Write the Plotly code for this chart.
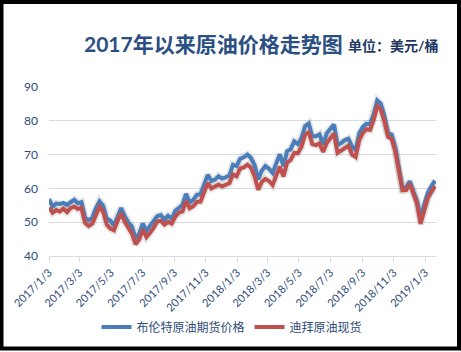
import pandas as pd
import plotly.graph_objects as go

# Weekly observations (Tuesdays) starting 2017-01-03
dates = pd.date_range("2017-01-03", periods=108, freq="7D")

brent = [56.8, 54.6, 55.5, 55.4, 55.7, 55.1, 55.9, 56.6, 55.6, 55.9,
         51.3, 50.6, 51.3, 54.2, 56.2, 54.9, 51.1, 50.5, 49.0, 52.0,
         54.2, 51.8, 49.9, 48.7, 45.2, 46.6, 49.6, 47.5, 48.8, 50.2,
         51.8, 52.1, 50.8, 51.9, 51.0, 53.4, 54.3, 55.1, 58.4, 55.8,
         56.6, 58.1, 58.3, 61.4, 64.0, 62.2, 62.6, 63.6, 62.9, 63.3,
         63.8, 67.0, 66.6, 68.8, 69.2, 70.0, 69.0, 66.9, 62.7, 65.3,
         66.6, 65.8, 64.6, 67.4, 70.1, 66.6, 71.0, 71.6, 73.9, 73.1,
         74.9, 78.4, 79.2, 75.4, 75.4, 76.0, 73.0, 76.3, 77.8, 78.9,
         72.9, 73.4, 74.3, 74.7, 72.5, 71.2, 76.3, 78.2, 79.1, 79.0,
         81.9, 86.0, 85.0, 81.4, 76.4, 75.9, 72.1, 65.5, 60.0, 60.2,
         62.1, 59.2, 56.3, 51.5, 54.9, 58.7, 60.6, 62.3]

dubai = [54.3, 52.8, 53.6, 53.2, 54.0, 53.0, 54.2, 54.6, 53.9, 54.3,
         49.8, 48.9, 49.6, 52.1, 54.5, 53.1, 49.3, 48.1, 47.6, 50.4,
         52.6, 50.1, 48.3, 46.6, 43.5, 44.9, 47.8, 45.6, 46.9, 48.3,
         50.2, 50.4, 49.3, 50.1, 49.6, 51.6, 52.8, 53.2, 56.2, 54.1,
         54.7, 56.0, 56.1, 59.1, 61.6, 60.0, 60.4, 61.1, 60.6, 61.0,
         61.5, 64.1, 63.6, 65.9, 66.2, 67.0, 66.1, 63.5, 59.6, 61.9,
         62.8, 62.2, 61.0, 63.8, 66.4, 63.5, 67.6, 68.4, 70.5, 70.4,
         72.3, 75.9, 76.6, 73.1, 72.8, 73.3, 70.8, 73.4, 75.0, 76.2,
         70.5, 71.2, 72.0, 72.6, 70.0, 69.3, 74.3, 76.4, 77.5, 77.3,
         80.2, 84.3, 83.3, 79.8, 75.2, 74.6, 71.0, 64.8, 59.4, 59.5,
         61.3, 58.6, 55.6, 49.5, 53.8, 57.2, 58.9, 60.7]

tick_dates = ["2017-01-03", "2017-03-03", "2017-05-03", "2017-07-03", "2017-09-03",
              "2017-11-03", "2018-01-03", "2018-03-03", "2018-05-03", "2018-07-03",
              "2018-09-03", "2018-11-03", "2019-01-03"]
tick_labels = ["2017/1/3", "2017/3/3", "2017/5/3", "2017/7/3", "2017/9/3",
               "2017/11/3", "2018/1/3", "2018/3/3", "2018/5/3", "2018/7/3",
               "2018/9/3", "2018/11/3", "2019/1/3"]
y_ticks = [40, 50, 60, 70, 80, 90]

series_names = ["布伦特原油期货价格", "迪拜原油现货"]
colors = ["#4A7EBB", "#C0504D"]

FONT = "Lato, 'Noto Sans CJK SC', sans-serif"
TXT = "#2E4B7A"

fig = go.Figure()
for name, vals, col in zip(series_names, [brent, dubai], colors):
    fig.add_trace(go.Scatter(x=dates, y=vals, mode="lines", name="",
                             line=dict(color="rgba(0,0,0,0.10)", width=7.5),
                             showlegend=False, hoverinfo="skip"))
for name, vals, col in zip(series_names, [brent, dubai], colors):
    fig.add_trace(go.Scatter(x=dates, y=vals, mode="lines", name=name,
                             line=dict(color=col, width=4)))

W, H = 461, 352
L, R, T, B = 49, 25, 87, 95
pw, ph = W - L - R, H - T - B

def px_x(p):
    return (p - L) / pw

def px_y(p):
    return (H - B - p) / ph

fig.update_layout(
    width=W, height=H,
    margin=dict(l=L, r=R, t=T, b=B),
    template="none",
    paper_bgcolor="white", plot_bgcolor="white",
    font=dict(family=FONT, color=TXT, size=12),
    showlegend=True,
    legend=dict(orientation="h", x=px_x(232), xanchor="center",
                y=px_y(327), yanchor="middle",
                font=dict(size=12, color=TXT), itemwidth=30,
                bgcolor="rgba(0,0,0,0)"),
    xaxis=dict(type="date", range=["2017-01-03", "2019-01-24"],
               tickvals=tick_dates, ticktext=tick_labels, tickangle=-45,
               tickfont=dict(size=11, color=TXT),
               showgrid=False, showline=True, linecolor="#D6DCE5", linewidth=1,
               ticks="outside", ticklen=5, tickcolor="#D6DCE5",
               automargin=False, zeroline=False),
    yaxis=dict(range=[40, 90], tickvals=y_ticks,
               tickfont=dict(size=12, color=TXT),
               showgrid=True, gridcolor="#D6DCE5", gridwidth=1,
               showline=False, ticks="", ticklabelstandoff=10,
               automargin=False, zeroline=False),
    annotations=[
        dict(text="<b>2017年以来原油价格走势图</b>", xref="paper", yref="paper",
             x=px_x(82), y=px_y(43), xanchor="left", yanchor="middle",
             showarrow=False, font=dict(size=21, color="#2B4F82", family=FONT)),
        dict(text="<b>单位：美元/桶</b>", xref="paper", yref="paper",
             x=px_x(346), y=px_y(45), xanchor="left", yanchor="middle",
             showarrow=False, font=dict(size=14, color="#1F3864", family=FONT)),
    ],
    shapes=[dict(type="rect", xref="paper", yref="paper",
                 x0=px_x(1.5), x1=px_x(459), y0=px_y(350), y1=px_y(1.5),
                 line=dict(color="black", width=4), fillcolor="rgba(0,0,0,0)")],
)

fig.write_html("out.html")
